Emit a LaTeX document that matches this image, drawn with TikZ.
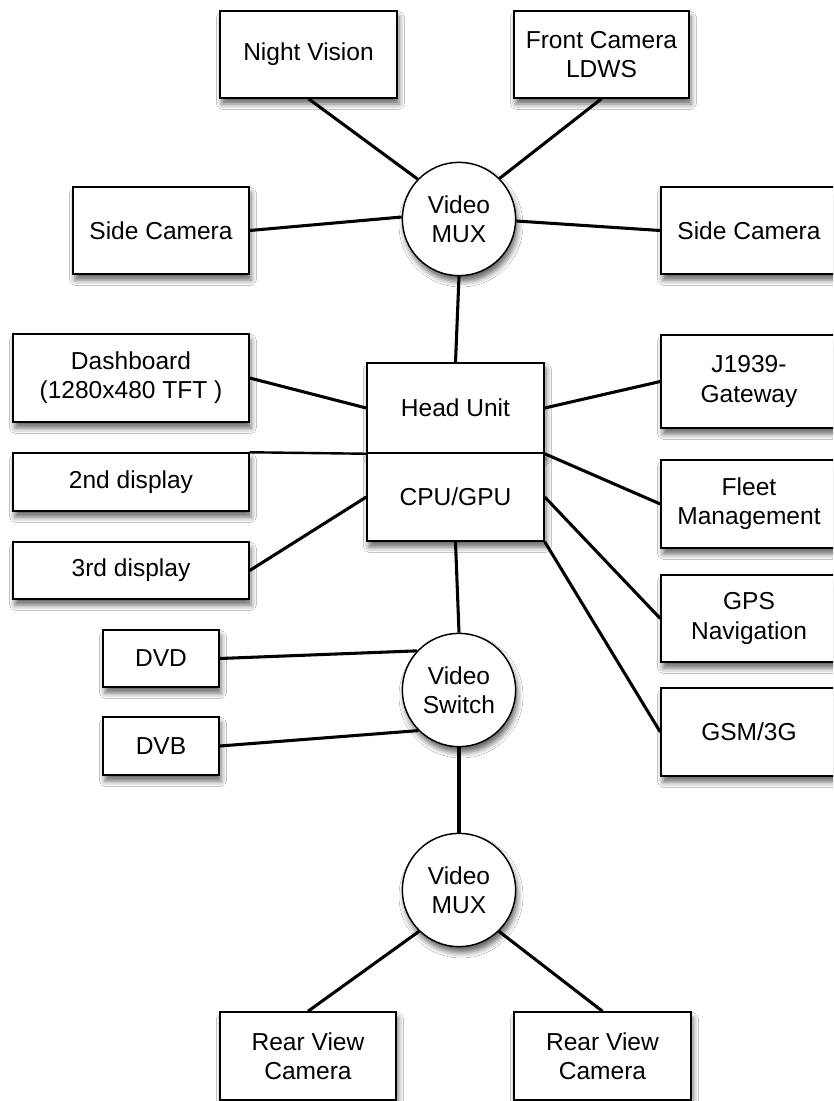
\documentclass[tikz,border=0pt]{standalone}
\usepackage{fontspec}
\setmainfont{Liberation Sans}
\usetikzlibrary{shadows.blur}

\tikzset{
  unit/.style={draw=black, line width=1.1pt, fill=white, align=center,
    inner sep=0pt, font=\fontsize{18.4}{21.8}\selectfont,
    blur shadow={shadow xshift=1.5pt, shadow yshift=-4.5pt,
      shadow blur radius=4pt, shadow opacity=60}},
  box/.style={unit, rectangle},
  hub/.style={unit, circle, minimum size=85pt},
  link/.style={draw=black, line width=2.3pt}
}

\begin{document}
\begin{tikzpicture}[x=0.75pt, y=-0.75pt]
  \fill[white] (0,0) rectangle (833,1101);
  \useasboundingbox (0,0) rectangle (833,1101);
  \clip (0,0) rectangle (833,1101);

  % camera inputs around the upper multiplexer
  \node[box, minimum width=132.75pt, minimum height=65.25pt] (nv) at (308.5,54.5) {Night Vision};
  \node[box, minimum width=131.25pt, minimum height=65.25pt] (fc) at (601.5,54.5) {Front Camera\\LDWS};
  \node[box, minimum width=132pt, minimum height=65.25pt] (scl) at (161,230.5) {Side Camera};
  \node[box, minimum width=132pt, minimum height=65.25pt] (scr) at (749,230.5) {Side Camera};
  \node[hub] (mux1) at (459,219) {Video\\MUX};

  % displays on the left
  \node[box, minimum width=177pt, minimum height=66pt] (dash) at (131,378) {Dashboard\\(1280x480 TFT )};
  \node[box, minimum width=177pt, minimum height=43.5pt] (d2) at (131,482) {2nd display};
  \node[box, minimum width=177pt, minimum height=42.75pt] (d3) at (131,570.5) {3rd display};

  % central head unit
  \node[box, minimum width=132.75pt, minimum height=67.5pt] (hu) at (455.5,408) {Head Unit};
  \node[box, minimum width=132.75pt, minimum height=66pt] (cpu) at (455.5,497) {CPU/GPU};

  % services on the right
  \node[box, minimum width=132pt, minimum height=69.75pt] (j19) at (749,381.5) {J1939-\\Gateway};
  \node[box, minimum width=132pt, minimum height=66pt] (fleet) at (749,504) {Fleet\\Management};
  \node[box, minimum width=132pt, minimum height=65.25pt] (gps) at (749,618.5) {GPS\\Navigation};
  \node[box, minimum width=132pt, minimum height=66pt] (gsm) at (749,732) {GSM/3G};

  % media sources and switching
  \node[box, minimum width=87pt, minimum height=42.75pt] (dvd) at (161,658.5) {DVD};
  \node[box, minimum width=87pt, minimum height=43.5pt] (dvb) at (161,746) {DVB};
  \node[hub] (sw) at (459,690) {Video\\Switch};

  % rear cameras
  \node[hub] (mux2) at (459,890) {Video\\MUX};
  \node[box, minimum width=132pt, minimum height=66pt] (rv1) at (308,1056) {Rear View\\Camera};
  \node[box, minimum width=132.75pt, minimum height=66pt] (rv2) at (602.5,1056) {Rear View\\Camera};

  % connections
  \draw[link] (nv.south) -- (mux1.136);
  \draw[link] (fc.south) -- (mux1.45);
  \draw[link] (scl.east) -- (mux1.178);
  \draw[link] (mux1.358) -- (scr.west);
  \draw[link] (mux1.south) -- (hu.north);

  \draw[link] (dash.east) -- (hu.west);
  \draw[link, line width=1.8pt] (d2.north east) -- (hu.south west);
  \draw[link] (d3.east) -- (cpu.west);

  \draw[link] (hu.east) -- (j19.west);
  \draw[link] (hu.south east) -- (fleet.west);
  \draw[link] (cpu.east) -- (gps.west);
  \draw[link] (cpu.south east) -- (gsm.west);

  \draw[link] (cpu.south) -- (sw.north);
  \draw[link] (dvd.east) -- (sw.137);
  \draw[link] (dvb.east) -- (sw.225);
  \draw[link] (sw.south) -- (mux2.north);

  \draw[link] (mux2.226) -- (rv1.north);
  \draw[link] (mux2.314) -- (rv2.north);
\end{tikzpicture}
\end{document}
